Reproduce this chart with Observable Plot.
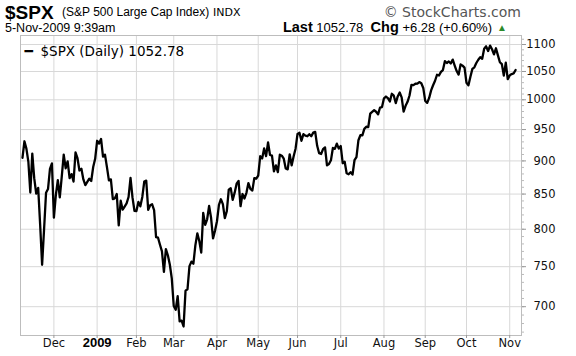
<!DOCTYPE html>
<html>
<head>
<meta charset="utf-8">
<script src="https://cdn.jsdelivr.net/npm/d3@7"></script>
<script src="https://cdn.jsdelivr.net/npm/@observablehq/plot@0.6"></script>
<style>
  html, body { margin: 0; padding: 0; background: #fff; }
  #wrap { width: 576px; height: 356px; position: relative; overflow: hidden; }
  #header { position: relative; width: 576px; height: 34px; font-family: "Liberation Sans", Arial, sans-serif; color: #000; }
  #header span { position: absolute; white-space: nowrap; line-height: 1; }
  svg { display: block; }
</style>
</head>
<body>
<div id="wrap">
  <div id="header">
    <span style="left:5px; top:3px; font-size:19px; font-weight:bold;">$SPX</span>
    <span style="left:62px; top:6px; font-size:12px;">(S&amp;P 500 Large Cap Index)</span>
    <span style="left:213px; top:7px; font-size:11px; font-family:'DejaVu Sans';">INDX</span>
    <span style="right:55px; top:5px; font-size:14px; color:#555; font-family:'DejaVu Sans';">© StockCharts.com</span>
    <span style="left:5px; top:22px; font-size:12.5px;">5-Nov-2009 9:39am</span>
    <span style="right:84px; top:20px; font-size:13px;"><b style="font-size:14.5px;">Last</b> 1052.78 &nbsp;<b style="font-size:14.5px;">Chg</b> +6.28 (+0.60%)</span>
    <span style="left:497px; top:23px; font-size:10px; color:#2a8a2a;">▲</span>
  </div>
  <div id="chart"></div>
</div>
<script>
// Trading days (2008-11-06 .. 2009-11-05) and daily closes of $SPX
const dates = [
"2008-11-06","2008-11-07","2008-11-10","2008-11-11","2008-11-12","2008-11-13","2008-11-14","2008-11-17","2008-11-18","2008-11-19","2008-11-20","2008-11-21","2008-11-24","2008-11-25","2008-11-26","2008-11-28",
"2008-12-01","2008-12-02","2008-12-03","2008-12-04","2008-12-05","2008-12-08","2008-12-09","2008-12-10","2008-12-11","2008-12-12","2008-12-15","2008-12-16","2008-12-17","2008-12-18","2008-12-19","2008-12-22","2008-12-23","2008-12-24","2008-12-26","2008-12-29","2008-12-30","2008-12-31",
"2009-01-02","2009-01-05","2009-01-06","2009-01-07","2009-01-08","2009-01-09","2009-01-12","2009-01-13","2009-01-14","2009-01-15","2009-01-16","2009-01-20","2009-01-21","2009-01-22","2009-01-23","2009-01-26","2009-01-27","2009-01-28","2009-01-29","2009-01-30",
"2009-02-02","2009-02-03","2009-02-04","2009-02-05","2009-02-06","2009-02-09","2009-02-10","2009-02-11","2009-02-12","2009-02-13","2009-02-17","2009-02-18","2009-02-19","2009-02-20","2009-02-23","2009-02-24","2009-02-25","2009-02-26","2009-02-27",
"2009-03-02","2009-03-03","2009-03-04","2009-03-05","2009-03-06","2009-03-09","2009-03-10","2009-03-11","2009-03-12","2009-03-13","2009-03-16","2009-03-17","2009-03-18","2009-03-19","2009-03-20","2009-03-23","2009-03-24","2009-03-25","2009-03-26","2009-03-27","2009-03-30","2009-03-31",
"2009-04-01","2009-04-02","2009-04-03","2009-04-06","2009-04-07","2009-04-08","2009-04-09","2009-04-13","2009-04-14","2009-04-15","2009-04-16","2009-04-17","2009-04-20","2009-04-21","2009-04-22","2009-04-23","2009-04-24","2009-04-27","2009-04-28","2009-04-29","2009-04-30",
"2009-05-01","2009-05-04","2009-05-05","2009-05-06","2009-05-07","2009-05-08","2009-05-11","2009-05-12","2009-05-13","2009-05-14","2009-05-15","2009-05-18","2009-05-19","2009-05-20","2009-05-21","2009-05-22","2009-05-26","2009-05-27","2009-05-28","2009-05-29",
"2009-06-01","2009-06-02","2009-06-03","2009-06-04","2009-06-05","2009-06-08","2009-06-09","2009-06-10","2009-06-11","2009-06-12","2009-06-15","2009-06-16","2009-06-17","2009-06-18","2009-06-19","2009-06-22","2009-06-23","2009-06-24","2009-06-25","2009-06-26","2009-06-29","2009-06-30",
"2009-07-01","2009-07-02","2009-07-06","2009-07-07","2009-07-08","2009-07-09","2009-07-10","2009-07-13","2009-07-14","2009-07-15","2009-07-16","2009-07-17","2009-07-20","2009-07-21","2009-07-22","2009-07-23","2009-07-24","2009-07-27","2009-07-28","2009-07-29","2009-07-30","2009-07-31",
"2009-08-03","2009-08-04","2009-08-05","2009-08-06","2009-08-07","2009-08-10","2009-08-11","2009-08-12","2009-08-13","2009-08-14","2009-08-17","2009-08-18","2009-08-19","2009-08-20","2009-08-21","2009-08-24","2009-08-25","2009-08-26","2009-08-27","2009-08-28","2009-08-31",
"2009-09-01","2009-09-02","2009-09-03","2009-09-04","2009-09-08","2009-09-09","2009-09-10","2009-09-11","2009-09-14","2009-09-15","2009-09-16","2009-09-17","2009-09-18","2009-09-21","2009-09-22","2009-09-23","2009-09-24","2009-09-25","2009-09-28","2009-09-29","2009-09-30",
"2009-10-01","2009-10-02","2009-10-05","2009-10-06","2009-10-07","2009-10-08","2009-10-09","2009-10-12","2009-10-13","2009-10-14","2009-10-15","2009-10-16","2009-10-19","2009-10-20","2009-10-21","2009-10-22","2009-10-23","2009-10-26","2009-10-27","2009-10-28","2009-10-29","2009-10-30",
"2009-11-02","2009-11-03","2009-11-04","2009-11-05"
];
const closes = [
904.88,930.99,919.21,898.95,852.30,911.29,873.29,850.75,859.12,806.58,752.44,800.03,851.81,857.39,887.68,896.24,
816.21,848.81,870.74,845.22,876.07,909.70,888.67,899.24,873.59,879.73,868.57,913.18,904.42,885.28,887.88,871.63,863.16,868.15,872.80,869.42,890.64,903.25,
931.80,927.45,934.70,906.65,909.73,890.35,870.26,871.79,842.62,843.74,850.12,805.22,840.24,827.50,831.95,836.57,845.71,874.09,845.14,825.88,
825.44,838.51,832.23,845.85,868.60,869.89,827.16,833.74,835.19,826.84,789.17,788.42,778.94,770.05,743.33,773.14,764.90,752.83,735.09,
700.82,696.33,712.87,682.55,683.38,676.53,719.60,721.36,750.74,756.55,753.89,778.12,794.35,784.04,768.54,822.92,806.12,813.88,832.86,815.94,787.53,797.87,
811.08,834.38,842.50,835.48,815.55,825.16,856.56,858.73,841.50,852.06,865.30,869.60,832.39,850.08,843.55,851.92,866.23,857.51,855.16,873.64,872.81,
877.52,907.24,903.80,919.53,907.39,929.23,909.24,908.35,883.92,893.07,882.88,909.71,908.13,903.47,888.33,887.00,910.33,893.06,906.83,919.14,
942.87,944.74,931.76,942.46,940.09,939.14,942.43,939.15,944.89,946.21,923.72,911.97,910.71,918.37,921.23,893.04,895.10,900.94,920.26,918.90,927.23,919.32,
923.33,896.42,898.72,881.03,879.56,882.68,879.13,901.05,905.84,932.68,940.74,940.38,951.13,954.58,954.07,976.29,979.26,982.18,979.62,975.15,986.75,987.48,
1002.63,1005.65,1002.72,997.08,1010.48,1007.10,994.35,1005.81,1012.73,1004.09,979.73,989.67,996.46,1007.37,1026.13,1025.57,1028.00,1028.12,1030.98,1028.93,1020.62,
998.04,994.75,1003.24,1016.40,1025.39,1033.37,1044.14,1042.73,1049.34,1052.63,1068.76,1065.49,1068.30,1064.66,1071.66,1060.87,1050.78,1044.38,1062.98,1060.61,1057.08,
1029.85,1025.21,1040.46,1054.72,1057.58,1065.48,1071.49,1076.19,1073.19,1092.02,1096.56,1087.68,1097.91,1091.06,1081.40,1092.91,1079.60,1066.95,1063.41,1042.63,1066.11,1036.19,
1042.88,1045.41,1046.50,1052.78
];
// Month tick labels and the first trading day of each month
const monthLabels = ["Dec","2009","Feb","Mar","Apr","May","Jun","Jul","Aug","Sep","Oct","Nov"];
const monthStarts = ["2008-12-01","2009-01-02","2009-02-02","2009-03-02","2009-04-01","2009-05-01","2009-06-01","2009-07-01","2009-08-03","2009-09-01","2009-10-01","2009-11-02"];
const yTicks = [700,750,800,850,900,950,1000,1050,1100];
const yMinor = d3.range(670, 1120, 10);
const lastValue = "1052.78";
const seriesLabel = "$SPX (Daily)";

const data = dates.map((d, i) => ({i, date: d, close: closes[i]}));
const monthIdx = monthStarts.map(d => dates.indexOf(d));
const months = monthIdx.map((i, k) => ({i, label: monthLabels[k], bold: monthLabels[k] === "2009"}));

const chart = Plot.plot({
  width: 576,
  height: 322,
  marginTop: 1,
  marginBottom: 21,
  marginLeft: 20,
  marginRight: 55,
  style: {fontFamily: "DejaVu Sans", fontSize: "11px", background: "#fff", color: "#000"},
  x: {type: "linear", domain: [-1, 254], axis: null, label: null},
  y: {type: "log", domain: [666.1, 1117.2], axis: null, label: null},
  marks: [
    Plot.gridY(yTicks, {stroke: "#d8d8d8", strokeOpacity: 1}),
    Plot.gridX(monthIdx, {stroke: "#d8d8d8", strokeOpacity: 1}),
    Plot.frame({stroke: "#bdbdbd"}),
    Plot.axisX(monthIdx, {anchor: "bottom", tickSize: 3, stroke: "#999", tickFormat: () => "", label: null}),
    Plot.axisY(yMinor, {anchor: "right", tickSize: 2, stroke: "#bbb", tickFormat: () => "", label: null}),
    Plot.axisY(yTicks, {anchor: "right", tickSize: 4, stroke: "#999", tickFormat: () => "", label: null}),
    Plot.text(yTicks, {y: d => d, text: d => String(d), frameAnchor: "right", textAnchor: "end", dx: 34, fontSize: 11.5, fill: "#111"}),
    Plot.text(months.filter(m => !m.bold), {x: "i", text: "label", frameAnchor: "bottom", dy: 11, fontSize: 11.5, fill: "#111"}),
    Plot.text(months.filter(m => m.bold), {x: "i", text: "label", frameAnchor: "bottom", dy: 11, fontSize: 13, fontWeight: "bold", fontFamily: "Liberation Sans", fill: "#000"}),
    Plot.line(data, {x: "i", y: "close", stroke: "#000", strokeWidth: 2.3, strokeLinejoin: "round"}),
    Plot.text(["━"], {frameAnchor: "top-left", dx: 4, dy: 11, textAnchor: "start", fontSize: 14, fontWeight: "bold", fill: "#000"}),
    Plot.text([seriesLabel + " " + lastValue], {frameAnchor: "top-left", dx: 20, dy: 11, textAnchor: "start", fontSize: 13.5, fill: "#000", style: "letter-spacing:0.3px"})
  ]
});
document.getElementById("chart").appendChild(chart);
</script>
</body>
</html>
